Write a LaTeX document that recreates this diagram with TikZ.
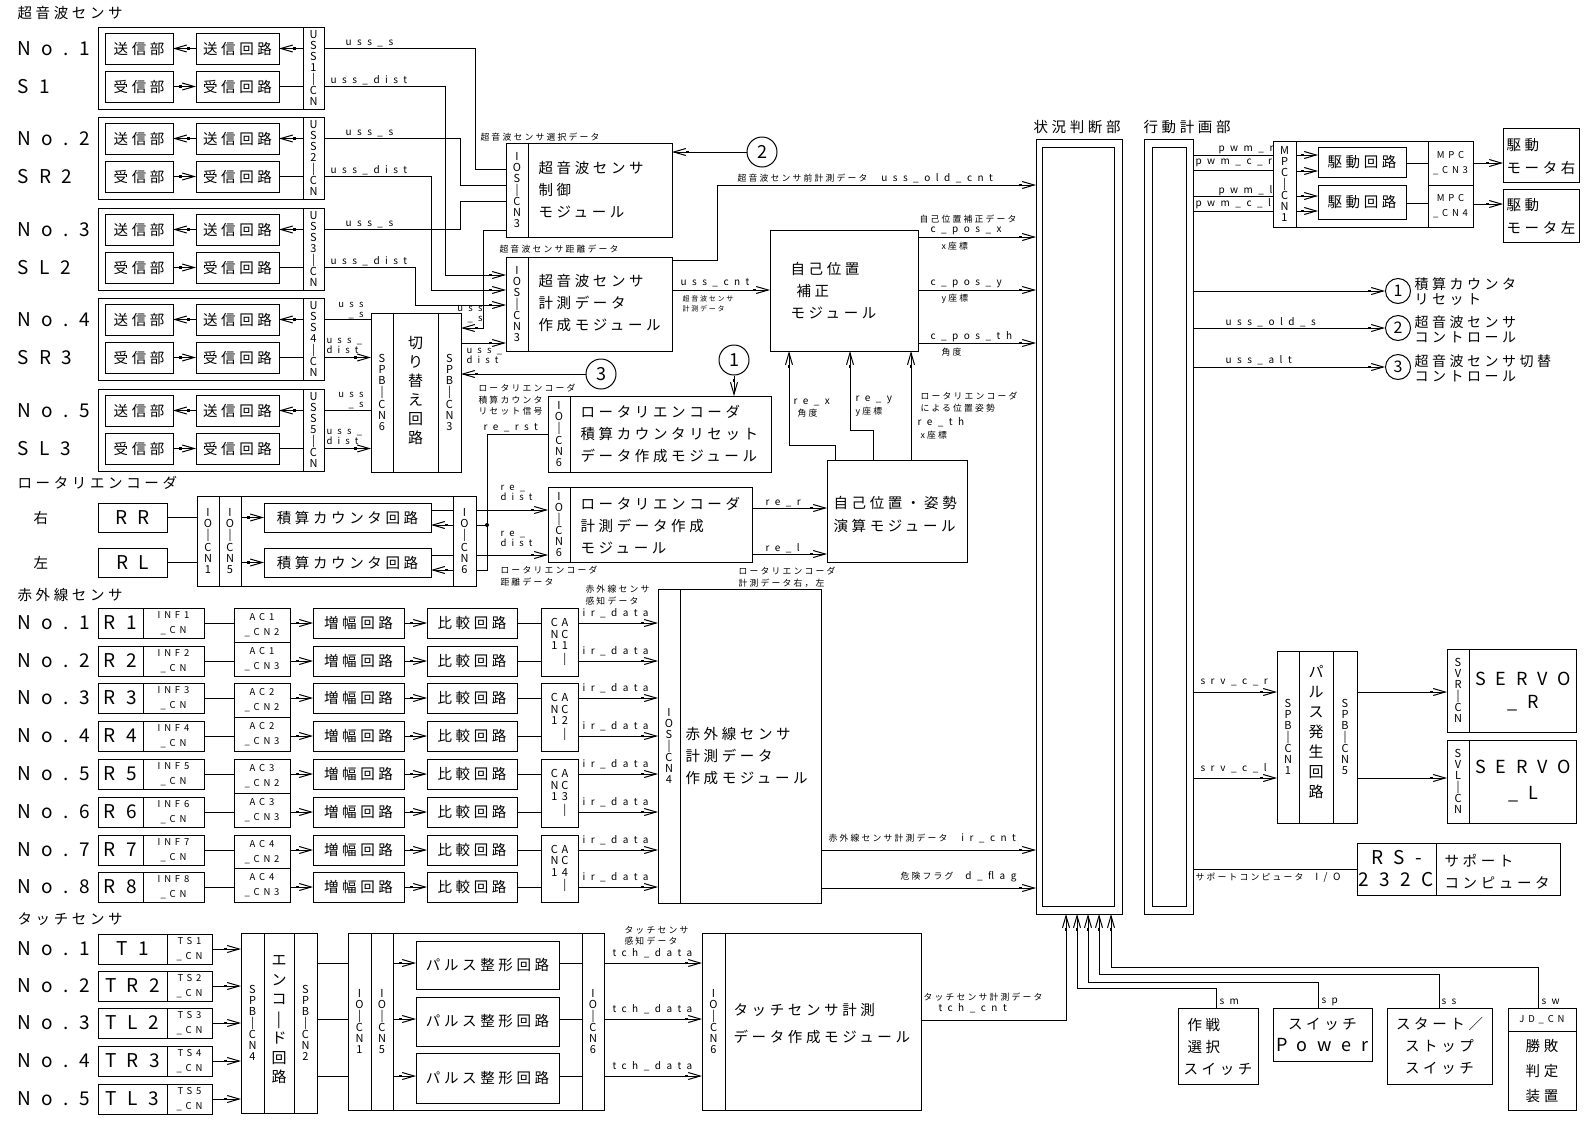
\documentclass[tikz,border=0pt]{standalone}
\usepackage{fontspec}
\setmainfont{Noto Sans CJK JP}
\newfontfamily\jf[LetterSpace=25]{Noto Sans CJK JP}
\newfontfamily\lf[LetterSpace=55]{Noto Sans CJK JP}
\newfontfamily\mf[LetterSpace=40]{Noto Sans CJK JP}
\newfontfamily\pf{Noto Sans CJK JP}
\usetikzlibrary{arrows.meta}
\tikzset{
  bx/.style={draw,inner sep=0pt,outer sep=0pt,align=center,font=\jf\fontsize{14.5}{22}\selectfont},
  V/.style={font=\pf\fontsize{11}{11}\selectfont},
  J/.style={font=\jf\fontsize{14.5}{22}\selectfont},
  Lb/.style={font=\lf\fontsize{19}{22}\selectfont},
  sl/.style={font=\lf\fontsize{10}{10}\selectfont},
  sl2/.style={font=\lf\fontsize{9.5}{10}\selectfont},
  sj/.style={font=\jf\fontsize{8.8}{11.5}\selectfont},
  sjs/.style={font=\jf\fontsize{7}{10}\selectfont},
  md/.style={font=\mf\fontsize{9.5}{15}\selectfont},
  vt/.style={font=\pf\fontsize{15}{19}\selectfont,align=center,inner sep=0pt},
  lb/.style={anchor=west,inner sep=0pt,align=left},
  arr/.style={-{Square[length=2.5pt,width=2.5pt]Straight Barb[length=12pt,width=7pt]}},
  circ/.style={draw,circle,inner sep=0pt,minimum size=30pt,font=\pf\fontsize{18}{18}\selectfont},
  circs/.style={draw,circle,inner sep=0pt,minimum size=25pt,font=\pf\fontsize{16}{16}\selectfont},
}
\newcommand\bx[7][]{\node[bx,#1,minimum width={(#5)-(#3)},minimum height={(#6)-(#4)}] (#2) at ({((#3)+(#5))/2},{((#4)+(#6))/2}) {#7};}
\begin{document}
\begin{tikzpicture}[x=1pt,y=-1pt,line width=1pt]
\useasboundingbox (0,0) rectangle (1587,1122);
% ===== ultrasonic sensors =====
\node[J,lb] (tus) at (17,13) {超音波センサ};
\foreach \i/\ty/\lA/\lB in {1/27/No.1/S1,2/117/No.2/SR2,3/208/No.3/SL2,4/298/No.4/SR3,5/389/No.5/SL3}{
  \bx{g\i}{98}{\ty}{324}{\ty+82}{}
  \bx[V]{gc\i}{303}{\ty}{324}{\ty+82}{U\\S\\S\\\i\\|\\C\\N}
  \bx{gst\i}{105}{\ty+6}{173}{\ty+37}{送信部}
  \bx{gsc\i}{196}{\ty+6}{279}{\ty+37}{送信回路}
  \bx{grt\i}{105}{\ty+44}{173}{\ty+75}{受信部}
  \bx{grc\i}{196}{\ty+44}{279}{\ty+75}{受信回路}
  \node[Lb,lb] (gla\i) at (17,\ty+21.5) {\lA};
  \node[Lb,lb] (glb\i) at (17,\ty+59.5) {\lB};
  \draw[arr] (gsc\i.west) -- (gst\i.east);
  \draw[arr] (gc\i.west|-gsc\i.center) -- (gsc\i.east);
  \draw[arr] (grt\i.east) -- (grc\i.west);
  \draw (grc\i.east) -- (gc\i.west|-grc\i.center);
}
\foreach \i/\ty in {1/27,2/117,3/208}{
  \node[sl,lb] (lus\i) at (345,\ty+16) {uss\_s};
  \node[sl,lb] (lud\i) at (330,\ty+53) {uss\_dist};
}
\node[sl2,anchor=east,align=right,inner sep=0pt] (lus4) at (364,311) {uss\\\_s};
\node[sl2,lb] (lud4) at (326,346) {uss\_\\dist};
\node[sl2,anchor=east,align=right,inner sep=0pt] (lus5) at (364,401) {uss\\\_s};
\node[sl2,lb] (lud5) at (326,437) {uss\_\\dist};
% switching circuit
\bx{swb}{371}{313}{461}{472}{}
\bx[V]{sw6}{371}{313}{393}{472}{S\\P\\B\\|\\C\\N\\6}
\bx[V]{sw3}{438}{313}{461}{472}{S\\P\\B\\|\\C\\N\\3}
\node[vt] (swt) at (415.5,390.5) {切\\り\\替\\え\\回\\路};
\node[sl2,anchor=east,align=right,inner sep=0pt] (lsws) at (483,315) {uss\\\_s};
\node[sl2,lb] (lswd) at (466,356) {uss\_\\dist};
% control module
\bx{ctl}{506}{143}{672}{237}{}
\bx[V]{ctls}{506}{143}{528}{237}{I\\O\\S\\|\\C\\N\\3}
\node[J,lb] (ctlt) at (538,189.5) {超音波センサ\\制御\\モジュール};
\node[sj,lb] (ctll) at (480,137) {超音波センサ選択データ};
% measurement module
\bx{meas}{506}{257}{672}{351}{}
\bx[V]{meass}{506}{257}{528}{351}{I\\O\\S\\|\\C\\N\\3}
\node[J,lb] (meast) at (538,303) {超音波センサ\\計測データ\\作成モジュール};
\node[sj,lb] (measl) at (499,249) {超音波センサ距離データ};
\node[sl,lb] (ucl) at (680,283) {uss\_cnt};
\node[sjs,lb] (ucl2) at (682,304) {超音波センサ\\計測データ};
\node[sj,lb] (uocl) at (737,178) {超音波センサ前計測データ\hspace{14pt}{\lf\fontsize{10}{10}\selectfont uss\_old\_cnt}};
\node[circ] (c2a) at (762,152) {2};
\node[circ] (c3a) at (601,374) {3};
\node[circ] (c1a) at (734,360) {1};
% self position correction
\bx{cor}{770}{230}{918}{351}{}
\node[J,lb] (cort) at (790,291) {自己位置\\\hspace*{6pt}補正\\モジュール};
\node[sj,lb] (corl) at (919,219) {自己位置補正データ};
\node[sl,lb] (cpx) at (930,231) {c\_pos\_x};
\node[sj,lb] (cpxl) at (941,246) {x座標};
\node[sl,lb] (cpy) at (930,284) {c\_pos\_y};
\node[sj,lb] (cpyl) at (941,299) {y座標};
\node[sl,lb] (cpt) at (930,337) {c\_pos\_th};
\node[sj,lb] (cptl) at (941,352) {角度};
% rotary encoder
\node[J,lb] (trot) at (17,483) {ロータリエンコーダ};
\node[J,lb] (rr0) at (33,518) {右};
\node[J,lb] (rl0) at (33,563) {左};
\bx[Lb]{rr}{98}{503}{167}{532}{RR}
\bx[Lb]{rl}{98}{548}{167}{577}{RL}
\bx{rb}{197}{496}{476}{586}{}
\bx[V]{jo1}{197}{496}{219}{586}{I\\O\\|\\C\\N\\1}
\bx[V]{jo5}{219}{496}{241}{586}{I\\O\\|\\C\\N\\5}
\bx[V]{jo6}{453}{496}{476}{586}{I\\O\\|\\C\\N\\6}
\bx{ic1}{264}{503}{431}{532}{積算カウンタ回路}
\bx{ic2}{264}{548}{431}{577}{積算カウンタ回路}
\bx{rst}{548}{396}{771}{472}{}
\bx[V]{rsts}{548}{396}{570}{472}{I\\O\\|\\C\\N\\6}
\node[J,lb] (rstt) at (580,434) {ロータリエンコーダ\\積算カウンタリセット\\データ作成モジュール};
\bx{rem}{548}{487}{752}{562}{}
\bx[V]{rems}{548}{487}{570}{562}{I\\O\\|\\C\\N\\6}
\node[J,lb] (remt) at (580,526) {ロータリエンコーダ\\計測データ作成\\モジュール};
\bx{ape}{827}{460}{967}{562}{}
\node[lb,font=\jf\fontsize{14.5}{23}\selectfont] (apet) at (833,514.5) {自己位置・姿勢\\演算モジュール};
\node[sj,lb] (rrl) at (478,400) {ロータリエンコーダ\\積算カウンタ\\リセット信号};
\node[sl,lb] (rrst) at (483,428) {re\_rst};
\node[sl2,lb] (rd1) at (500,493) {re\_\\dist};
\node[sl2,lb] (rd2) at (500,538.5) {re\_\\dist};
\node[sj,lb] (rdl) at (500,576) {ロータリエンコーダ\\距離データ};
\node[sl,lb] (rerl) at (765,503) {re\_r};
\node[sl,lb] (rell) at (765,548) {re\_l};
\node[sj,lb] (rel2) at (738,577) {ロータリエンコーダ\\計測データ右，左};
\node[sl,lb] (rexl) at (793,402) {re\_x};
\node[sj,lb] (rexl2) at (797,413) {角度};
\node[sl,lb] (reyl) at (855,400) {re\_y};
\node[sj,lb] (reyl2) at (855,412) {y座標};
\node[sj,lb] (retl) at (920,402) {ロータリエンコーダ\\による位置姿勢};
\node[sl,lb] (retl2) at (917,422) {re\_th};
\node[sj,lb] (retl3) at (920,435) {x座標};
\node[circle,fill,inner sep=0pt,minimum size=4pt] (jdot) at (487,525) {};
% ===== infrared =====
\node[J,lb] (tir) at (17,595) {赤外線センサ};
\foreach \k/\ty in {1/608,2/646,3/683,4/721,5/759,6/797,7/835,8/872}{
  \node[Lb,lb] (irn\k) at (17,\ty+15) {No.\k};
  \bx[Lb]{ir\k}{98}{\ty}{143}{\ty+30}{R\k}
  \bx[md]{inf\k}{143}{\ty}{204}{\ty+30}{INF\k\\\_CN}
  \bx{amp\k}{313}{\ty}{404}{\ty+30}{増幅回路}
  \bx{cmp\k}{427}{\ty}{517}{\ty+30}{比較回路}
  \node[sl,lb] (ird\k) at (582,\ty+5) {ir\_data};
}
\foreach \j/\ya/\yb/\yc in {1/608/642/676,2/683/717/751,3/759/793/827,4/835/868.5/902}{
  \bx[md]{aca\j}{234}{\ya}{290}{\yb}{AC\j\\\_CN2}
  \bx[md]{acb\j}{234}{\yb}{290}{\yc}{AC\j\\\_CN3}
  \bx[V]{cac\j}{541}{\ya}{578}{\yc}{\begin{tabular}{@{}c@{\hspace{3pt}}c@{}}C&A\\N&C\\1&\j\\&|\end{tabular}}
}
\bx{irm}{658}{589}{821}{903}{}
\bx[V]{irms}{658}{589}{680}{903}{I\\O\\S\\|\\C\\N\\4}
\node[J,lb] (irmt) at (685,756) {赤外線センサ\\計測データ\\作成モジュール};
\node[sj,lb] (irl) at (585,595) {赤外線センサ\\感知データ};
\node[sj,lb] (ircl) at (828,838) {赤外線センサ計測データ\hspace{14pt}{\lf\fontsize{10}{10}\selectfont ir\_cnt}};
\node[sj,lb] (dfl) at (900,877) {危険フラグ\hspace{12pt}{\lf\fontsize{10}{10}\selectfont d\_flag}};
% ===== touch =====
\node[J,lb] (ttc) at (17,919) {タッチセンサ};
\foreach \k/\ty/\nm in {1/934/T1,2/971/TR2,3/1008/TL2,4/1046/TR3,5/1084/TL3}{
  \node[Lb,lb] (tn\k) at (17,\ty+15) {No.\k};
  \bx[Lb]{t\k}{98}{\ty}{167}{\ty+30}{\nm}
  \bx[md]{ts\k}{167}{\ty}{212}{\ty+30}{TS\k\\\_CN}
}
\bx{enc}{241}{933}{317}{1113}{}
\bx[V]{enc4}{241}{933}{264}{1113}{S\\P\\B\\|\\C\\N\\4}
\bx[V]{enc2}{294}{933}{317}{1113}{S\\P\\B\\|\\C\\N\\2}
\node[vt,font=\pf\fontsize{15}{19.5}\selectfont] (enct) at (279,1020) {エ\\ン\\コ\\|\\ド\\回\\路};
\bx{jt}{348}{933}{604}{1110}{}
\bx[V]{jt1}{348}{933}{371}{1110}{I\\O\\|\\C\\N\\1}
\bx[V]{jt5}{371}{933}{393}{1110}{I\\O\\|\\C\\N\\5}
\bx[V]{jt6}{582}{933}{604}{1110}{I\\O\\|\\C\\N\\6}
\bx{ps1}{416}{941}{559}{989}{パルス整形回路}
\bx{ps2}{416}{997}{559}{1046}{パルス整形回路}
\bx{ps3}{416}{1053}{559}{1103}{パルス整形回路}
\foreach \k/\yy in {1/963,2/1019,3/1076}{
  \node[sl,lb] (tcd\k) at (612,\yy-10) {tch\_data};
}
\node[sj,lb] (tsl) at (624,935.5) {タッチセンサ\\感知データ};
\bx{tm}{702}{933}{921}{1110}{}
\bx[V]{tms}{702}{933}{725}{1110}{I\\O\\|\\C\\N\\6}
\node[lb,font=\jf\fontsize{14.5}{27}\selectfont] (tmt) at (733,1023.5) {タッチセンサ計測\\データ作成モジュール};
\node[sj,lb] (tcl) at (923,1003) {タッチセンサ計測データ\\\hspace*{15pt}{\lf\fontsize{10}{10}\selectfont tch\_cnt}};
% ===== judgement / planning =====
\node[J,lb] (jt0) at (1033,127) {状況判断部};
\bx{jud}{1036}{139}{1122}{914}{}
\bx{judi}{1042}{147}{1114}{906}{}
\node[J,lb] (pt0) at (1143,127) {行動計画部};
\bx{plan}{1144}{139}{1193}{914}{}
\bx{plani}{1152}{147}{1186}{906}{}
% motors
\bx{mpc}{1273}{141}{1473}{227}{}
\bx[V]{mpc1}{1273}{141}{1296}{227}{M\\P\\C\\|\\C\\N\\1}
\bx[md]{mpc3}{1428}{141}{1473}{185}{MPC\\\_CN3}
\bx[md]{mpc4}{1428}{185}{1473}{227}{MPC\\\_CN4}
\bx{dr1}{1318}{147}{1406}{177}{駆動回路}
\bx{dr2}{1318}{185}{1406}{219}{駆動回路}
\bx{mr}{1503}{128}{1579}{182}{}
\node[lb,font=\jf\fontsize{14.5}{23}\selectfont] (mrt) at (1506,156.5) {駆動\\モータ右};
\bx{ml}{1503}{189}{1579}{242}{}
\node[lb,font=\jf\fontsize{14.5}{23}\selectfont] (mlt) at (1506,216.5) {駆動\\モータ左};
\node[sl,lb] (pw1) at (1218,150) {pwm\_r};
\node[sl,lb] (pw2) at (1195,163) {pwm\_c\_r};
\node[sl,lb] (pw3) at (1218,191) {pwm\_l};
\node[sl,lb] (pw4) at (1195,204) {pwm\_c\_l};
% circles
\node[circs] (r1) at (1398,291) {1};
\node[circs] (r2) at (1398,328) {2};
\node[circs] (r3) at (1398,367) {3};
\node[lb,font=\jf\fontsize{14}{15}\selectfont] (r1t) at (1414,292) {積算カウンタ\\リセット};
\node[lb,font=\jf\fontsize{14}{15}\selectfont] (r2t) at (1414,329) {超音波センサ\\コントロール};
\node[lb,font=\jf\fontsize{14}{15}\selectfont] (r3t) at (1414,368) {超音波センサ切替\\コントロール};
\node[sl,lb] (uos) at (1225,322) {uss\_old\_s};
\node[sl,lb] (ual) at (1225,360) {uss\_alt};
% servo
\bx{pb}{1277}{651}{1357}{823}{}
\bx[V]{pb1}{1277}{651}{1299}{823}{S\\P\\B\\|\\C\\N\\1}
\bx[V]{pb5}{1333}{651}{1357}{823}{S\\P\\B\\|\\C\\N\\5}
\node[vt,font=\pf\fontsize{15}{20}\selectfont] (pbt) at (1316,732) {パ\\ル\\ス\\発\\生\\回\\路};
\bx{svr}{1447}{649}{1576}{732}{}
\bx[V]{svrs}{1447}{649}{1469}{732}{S\\V\\R\\|\\C\\N}
\node[Lb,align=center,inner sep=0pt,font=\lf\fontsize{18}{23}\selectfont] (svrt) at (1523,692) {SERVO\\\_R};
\bx{svl}{1447}{740}{1576}{823}{}
\bx[V]{svls}{1447}{740}{1469}{823}{S\\V\\L\\|\\C\\N}
\node[Lb,align=center,inner sep=0pt,font=\lf\fontsize{18}{26}\selectfont] (svlt) at (1523,781) {SERVO\\\_L};
\node[sl,lb] (src) at (1200,682) {srv\_c\_r};
\node[sl,lb] (scl) at (1200,768) {srv\_c\_l};
% RS-232C
\bx[Lb]{rs}{1357}{843}{1436}{895}{RS-\\232C}
\bx{spc}{1436}{843}{1560}{895}{}
\node[J,lb] (spct) at (1444,871.5) {サポート\\コンピュータ};
\node[sj,lb] (spl) at (1195,877) {サポートコンピュータ\hspace{12pt}{\lf\fontsize{10}{10}\selectfont I/O}};
% switches
\bx{b1}{1178}{1008}{1258}{1084}{}
\node[J,lb] (b1t) at (1183,1047) {\hspace*{4pt}作戦\\\hspace*{4pt}選択\\スイッチ};
\bx{b2}{1273}{1008}{1372}{1061}{スイッチ\\{\lf\fontsize{18}{22}\selectfont Power}}
\bx{b3}{1387}{1008}{1492}{1084}{スタート／\\ストップ\\スイッチ}
\bx[md]{b4h}{1508}{1008}{1576}{1031}{JD\_CN}
\bx[font=\jf\fontsize{14.5}{25}\selectfont]{b4}{1508}{1031}{1576}{1110}{勝敗\\判定\\装置}
\node[sl,lb] (lsm) at (1219,1002) {sm};
\node[sl,lb] (lsp) at (1321,1002) {sp};
\node[sl,lb] (lss) at (1441,1002) {ss};
\node[sl,lb] (lsw) at (1541,1002) {sw};
% ===== connectors =====
\draw (gc1.east|-gsc1.center) -| (475,169) -- (ctl.west|-0,169);
\draw[arr] (gc1.east|-grc1.center) -| (445,275) -- (meas.west|-0,275);
\draw (gc2.east|-gsc2.center) -| (460,185) -- (ctl.west|-0,185);
\draw[arr] (gc2.east|-grc2.center) -| (431,290) -- (meas.west|-0,290);
\draw (gc3.east|-gsc3.center) -| (460,201) -- (ctl.west|-0,201);
\draw[arr] (gc3.east|-grc3.center) -| (415,305) -- (meas.west|-0,305);
\foreach \i in {4,5}{
  \draw (gc\i.east|-gsc\i.center) -- (sw6.west|-gsc\i.center);
  \draw[arr] (gc\i.east|-grc\i.center) -- (sw6.west|-grc\i.center);
}
\draw[arr] (ctl.west|-0,230) -| (483,328) -- (sw3.east|-0,328);
\draw[arr] (sw3.east|-0,343) -- (meas.west|-0,343);
\draw[arr] (c3a.west) -- (sw3.east|-c3a.west);
\draw[arr] (c2a.west) -- (ctl.east|-c2a.west);
\draw[arr] (meas.east|-0,260) -| (717,185) -- (jud.west|-0,185);
\draw[arr] (meas.east|-0,290) -- (cor.west|-0,290);
\foreach \yy in {237,290,343}{\draw[arr] (cor.east|-0,\yy) -- (jud.west|-0,\yy);}
\draw (rr.east) -- (jo1.west|-rr.east);
\draw (rl.east) -- (jo1.west|-rl.east);
\draw[arr] (jo5.east|-ic1.west) -- (ic1.west);
\draw[arr] (jo5.east|-ic2.west) -- (ic2.west);
\draw (ic1.east|-0,510) -- (jo6.west|-0,510);
\draw[arr] (jo6.west|-0,525) -- (ic1.east|-0,525);
\draw (ic2.east|-0,555) -- (jo6.west|-0,555);
\draw[arr] (jo6.west|-0,570) -- (ic2.east|-0,570);
\draw[arr] (jo6.east|-0,510) -- (rem.west|-0,510);
\draw[arr] (jo6.east|-0,555) -- (rem.west|-0,555);
\draw (rst.west|-0,434) -| (487,570) -- (jo6.east|-0,570);
\draw (jdot.center) -- (jo6.east|-jdot.center);
\draw[arr] (c1a.south) -- (rst.north-|c1a.south);
\draw[arr] (rem.east|-0,508) -- (ape.west|-0,508);
\draw[arr] (rem.east|-0,554) -- (ape.west|-0,554);
\draw[arr] (ape.north-|835,0) |- (789,445) -- (cor.south-|789,0);
\draw[arr] (ape.north-|873,0) |- (850,430) -- (cor.south-|850,0);
\draw[arr] (ape.north-|911,0) -- (cor.south-|911,0);
\foreach \k in {1,...,8}{
  \draw (inf\k.east) -- (aca1.west|-inf\k.east);
  \draw[arr] (aca1.east|-amp\k.west) -- (amp\k.west);
  \draw[arr] (amp\k.east) -- (cmp\k.west);
  \draw (cmp\k.east) -- (cac1.west|-cmp\k.east);
  \draw[arr] (cac1.east|-cmp\k.east) -- (irm.west|-cmp\k.east);
}
\draw[arr] (irm.east|-0,850) -- (jud.west|-0,850);
\draw[arr] (irm.east|-0,888) -- (jud.west|-0,888);
\foreach \k in {1,...,5}{\draw[arr] (ts\k.east) -- (enc4.west|-ts\k.east);}
\foreach \k/\yy in {1/963,2/1019,3/1076}{
  \draw (enc2.east|-0,\yy) -- (jt1.west|-0,\yy);
  \draw[arr] (jt5.east|-0,\yy) -- (ps\k.west|-0,\yy);
  \draw (ps\k.east|-0,\yy) -- (jt6.west|-0,\yy);
  \draw[arr] (jt6.east|-0,\yy) -- (tm.west|-0,\yy);
}
\draw[arr] (tm.east|-0,1020) -| (jud.south-|1066,0);
\draw[arr] (b1.north-|1216,0) |- (1077,988) -- (jud.south-|1077,0);
\draw[arr] (b2.north-|1318,0) |- (1088,982) -- (jud.south-|1088,0);
\draw[arr] (b3.north-|1439,0) |- (1099,974) -- (jud.south-|1099,0);
\draw[arr] (b4h.north-|1538,0) |- (1111,967) -- (jud.south-|1111,0);
\foreach \yy in {155,170,196,211}{\draw (plan.east|-0,\yy) -- (mpc1.west|-0,\yy);}
\draw[arr] (mpc1.east|-0,155) -- (dr1.west|-0,155);
\draw[arr] (mpc1.east|-0,171) -- (dr1.west|-0,171);
\draw[arr] (mpc1.east|-0,196) -- (dr2.west|-0,196);
\draw[arr] (mpc1.east|-0,211) -- (dr2.west|-0,211);
\draw (dr1.east|-0,163) -- (mpc3.west|-0,163);
\draw (dr2.east|-0,203) -- (mpc4.west|-0,203);
\draw[arr] (mpc3.east|-0,163) -- (mr.west|-0,163);
\draw[arr] (mpc4.east|-0,204) -- (ml.west|-0,204);
\draw[arr] (plan.east|-r1.west) -- (r1.west);
\draw[arr] (plan.east|-r2.west) -- (r2.west);
\draw[arr] (plan.east|-r3.west) -- (r3.west);
\draw[arr] (plan.east|-0,692) -- (pb1.west|-0,692);
\draw[arr] (plan.east|-0,778) -- (pb1.west|-0,778);
\draw[arr] (pb5.east|-0,692) -- (svrs.west|-0,692);
\draw[arr] (pb5.east|-0,778) -- (svls.west|-0,778);
\draw (plan.east|-0,869) -- (rs.west|-0,869);
\end{tikzpicture}
\end{document}
